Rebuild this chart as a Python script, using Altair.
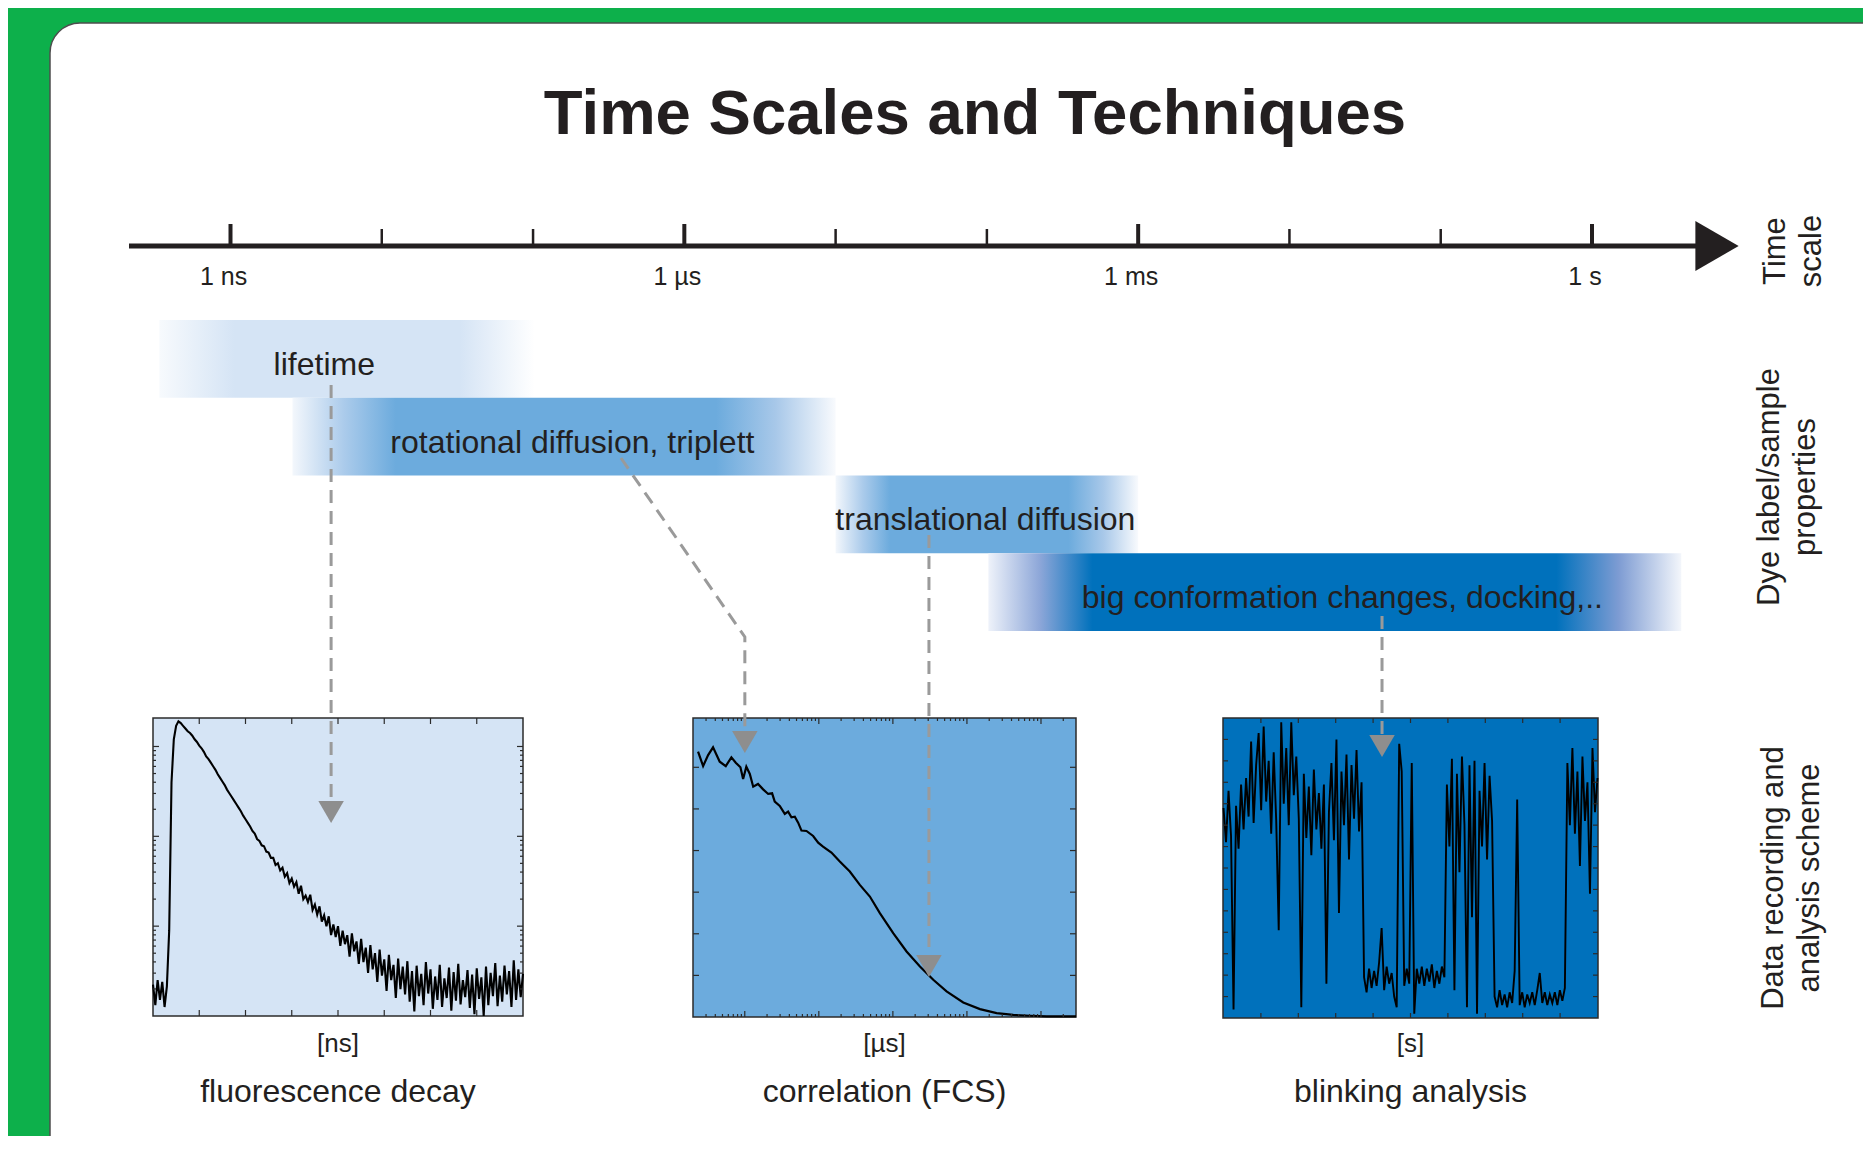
import altair as alt
import numpy as np
import pandas as pd

# ------------------------------------------------------------------ data
TITLE = "Time Scales and Techniques"

# time axis (log10 of seconds)
tick_decades = [-9, -8, -7, -6, -5, -4, -3, -2, -1, 0]
tick_major = [True, False, False, True, False, False, True, False, False, True]
label_decades = [-9, -6, -3, 0]
label_texts = ["1 ns", "1 µs", "1 ms", "1 s"]

# dye label / sample property bands
band_names = ["lifetime", "rotational diffusion, triplett",
              "translational diffusion", "big conformation changes, docking,.."]
band_start = [-9.47, -8.59, -5.00, -3.99]
band_end = [-6.99, -5.00, -3.00, 0.59]
band_row = [0, 1, 2, 3]
band_label_at = [-8.38, -6.74, -4.01, -1.65]

# dashed connectors (x in decades, y in band rows)
arrow_id = ["lifetime", "lifetime", "rot", "rot", "rot", "trans", "trans", "big", "big"]
arrow_seq = [0, 1, 0, 1, 2, 0, 1, 0, 1]
arrow_decade = [-8.335, -8.335, -6.419, -5.60, -5.60, -4.383, -4.383, -1.388, -1.388]
arrow_row = [0.836, 6.212, 1.775, 4.077, 5.286, 2.765, 8.180, 3.807, 5.363]
head_decade = [-8.335, -5.60, -4.383, -1.388]
head_row = [6.328, 5.428, 8.309, 5.479]

# fluorescence decay: log10 counts in 0.25 ns bins (0 .. 40 ns)
decay_bin_ns = 0.25
decay_log10 = [
    0.35, 0.12, 0.40, 0.18, 0.38, 0.10, 0.33, 0.95, 2.60, 3.08,
    3.23, 3.28, 3.26, 3.23, 3.20, 3.17, 3.15, 3.12, 3.08, 3.05,
    3.01, 2.98, 2.94, 2.89, 2.86, 2.82, 2.78, 2.74, 2.69, 2.65,
    2.61, 2.57, 2.52, 2.48, 2.44, 2.40, 2.36, 2.32, 2.28, 2.23,
    2.19, 2.15, 2.11, 2.06, 2.03, 1.97, 1.95, 1.90, 1.89, 1.83,
    1.82, 1.76, 1.76, 1.68, 1.70, 1.62, 1.65, 1.55, 1.59, 1.48,
    1.53, 1.44, 1.49, 1.36, 1.45, 1.30, 1.34, 1.27, 1.35, 1.18,
    1.24, 1.13, 1.22, 1.05, 1.12, 1.00, 1.11, 0.90, 1.02, 0.88,
    1.00, 0.78, 0.95, 0.80, 0.90, 0.66, 0.92, 0.72, 0.83, 0.58,
    0.86, 0.60, 0.76, 0.48, 0.79, 0.52, 0.70, 0.38, 0.74, 0.45,
    0.63, 0.28, 0.68, 0.40, 0.57, 0.20, 0.64, 0.30, 0.55, 0.24,
    0.61, 0.16, 0.50, 0.05, 0.56, 0.22, 0.47, 0.12, 0.60, 0.25,
    0.52, 0.08, 0.44, 0.18, 0.57, 0.10, 0.42, 0.20, 0.54, 0.06,
    0.49, 0.17, 0.58, 0.13, 0.40, 0.21, 0.51, 0.09, 0.46, 0.02,
    0.53, 0.19, 0.43, 0.00, 0.55, 0.12, 0.48, 0.22, 0.59, 0.11,
    0.45, 0.16, 0.56, 0.24, 0.50, 0.10, 0.62, 0.18, 0.52, 0.21,
    0.47]

# FCS correlation curve
fcs_tau_us = [0.234, 0.274, 0.320, 0.373, 0.459, 0.554, 0.660, 0.756, 0.874, 0.950,
              1.05, 1.17, 1.30, 1.51, 1.77, 2.07, 2.34, 2.54, 2.97, 3.47,
              3.85, 4.27, 4.74, 5.26, 5.83, 6.81, 8.38, 9.8, 11.4, 14.8,
              19.2, 26.2, 35.8, 48.9, 66.7, 101, 153, 232, 351, 531,
              892, 1500, 2518, 4227, 7100, 11940, 29700]
fcs_g = [1.275, 1.206, 1.259, 1.296, 1.227, 1.206, 1.248, 1.222, 1.200, 1.144,
         1.203, 1.168, 1.107, 1.120, 1.094, 1.072, 1.075, 1.035, 1.014, 0.976,
         0.987, 0.960, 0.963, 0.934, 0.896, 0.894, 0.870, 0.838, 0.819, 0.790,
         0.747, 0.699, 0.635, 0.579, 0.499, 0.403, 0.315, 0.243, 0.179, 0.123,
         0.070, 0.038, 0.019, 0.010, 0.006, 0.003, 0.003]

# blinking trace (count rate, 150 samples over 10 s)
blink_seconds = 10.0
blink_rate = [
    9.8, 8.2, 10.6, 8.5, 0.4, 9.9, 7.9, 10.9, 8.8, 11.2,
    9.4, 12.9, 9.1, 11.8, 13.3, 9.7, 13.6, 10.1, 12.0, 8.6,
    12.4, 9.2, 4.1, 13.8, 10.0, 12.6, 9.0, 13.8, 10.4, 12.2,
    9.3, 0.5, 11.4, 8.4, 10.8, 7.6, 11.6, 8.8, 10.5, 7.9,
    10.9, 1.6, 9.6, 11.9, 8.3, 13.0, 4.9, 11.5, 9.0, 12.3,
    7.4, 11.8, 9.3, 12.5, 8.7, 11.0, 1.9, 1.2, 2.3, 1.4,
    2.2, 1.5, 2.6, 4.2, 1.3, 2.4, 1.6, 2.1, 1.0, 0.5,
    12.8, 11.5, 1.5, 2.3, 1.6, 11.9, 0.2, 2.3, 1.6, 2.4,
    1.5, 2.3, 1.7, 2.5, 1.4, 2.2, 1.6, 2.4, 1.9, 10.9,
    8.0, 12.1, 1.3, 11.4, 6.8, 12.2, 9.0, 0.5, 11.8, 4.7,
    12.0, 0.2, 10.6, 8.0, 11.9, 7.4, 11.3, 9.2, 1.0, 0.5,
    1.3, 0.6, 1.1, 0.5, 1.2, 0.7, 2.2, 10.2, 0.6, 1.2,
    0.5, 1.1, 0.7, 1.2, 0.6, 1.3, 2.1, 0.7, 1.2, 0.6,
    1.1, 0.7, 1.2, 0.6, 1.3, 0.8, 1.4, 11.9, 9.0, 12.6,
    8.6, 11.5, 7.1, 12.2, 9.2, 11.0, 5.8, 12.6, 9.6, 11.2]

panel_units = ["[ns]", "[µs]", "[s]"]
panel_titles = ["fluorescence decay", "correlation (FCS)", "blinking analysis"]
side_labels = [["Time", "scale"], ["Dye label/sample", "properties"],
               ["Data recording and", "analysis scheme"]]

# ------------------------------------------------------------------ style
W, H = 1855, 1128
GREEN = "#0DB04B"
INK = "#231F20"
LIGHT = "#D5E4F5"
MID = "#6CABDD"
DARK = "#0071BC"
DASH_GRAY = "#9A9A9A"
HEAD_GRAY = "#8E8E8E"
FONT = "Liberation Sans"

TX = alt.Scale(domain=[-9, 0], range=[222.5, 1584.0], nice=False, zero=False)
RY = alt.Scale(domain=[0, 4], range=[312.0, 623.0], nice=False, zero=False)

band_stops = [
    [(0.0, "#F7FAFD"), (0.20, LIGHT), (0.80, LIGHT), (1.0, "#FFFFFF")],
    [(0.0, "#F3F7FC"), (0.095, "#ABCBEB"), (0.19, MID), (0.78, MID), (0.89, "#A8C8E9"), (1.0, "#F8FAFD")],
    [(0.0, "#F3F7FC"), (0.09, "#ABCBEB"), (0.18, MID), (0.77, MID), (0.885, "#A8C8E9"), (1.0, "#F8FAFD")],
    [(0.0, "#EEF2FA"), (0.075, "#8CA6D8"), (0.15, DARK), (0.82, DARK), (0.91, "#7E9CD3"), (1.0, "#F3F6FB")],
]

# panel boxes in chart pixels: x0, x1, y0, y1
BOX = [(145, 515, 710, 1008), (685, 1068, 710, 1009), (1215, 1590, 710, 1010)]
PANEL_FILL = [LIGHT, MID, DARK]


def one():
    return pd.DataFrame({"k": [0]})


layers = []

# white rounded sheet
layers.append(alt.Chart(one()).mark_rect(
    fill="white", stroke="#4D4D4D", strokeWidth=1.5, cornerRadius=30).encode(
    x=alt.value(42), x2=alt.value(2200), y=alt.value(15), y2=alt.value(1600)))

# bands
for i in range(4):
    df = pd.DataFrame({"start": [band_start[i]], "end": [band_end[i]],
                       "r0": [band_row[i]], "r1": [band_row[i] + 1]})
    grad = alt.Gradient(gradient="linear",
                        stops=[alt.GradientStop(offset=o, color=c) for o, c in band_stops[i]],
                        x1=0, x2=1, y1=0, y2=0)
    layers.append(alt.Chart(df).mark_rect(color=grad).encode(
        x=alt.X("start:Q", scale=TX, axis=None), x2="end:Q",
        y=alt.Y("r0:Q", scale=RY, axis=None), y2="r1:Q"))

# time axis
layers.append(alt.Chart(one()).mark_rule(color=INK, strokeWidth=5).encode(
    x=alt.value(121), x2=alt.value(1690), y=alt.value(238)))
ticks_df = pd.DataFrame({"d": tick_decades, "major": tick_major})
layers.append(alt.Chart(ticks_df[ticks_df["major"]]).mark_rule(color=INK, strokeWidth=4).encode(
    x=alt.X("d:Q", scale=TX, axis=None), y=alt.value(216), y2=alt.value(238)))
layers.append(alt.Chart(ticks_df[~ticks_df["major"]]).mark_rule(color=INK, strokeWidth=2.5).encode(
    x=alt.X("d:Q", scale=TX, axis=None), y=alt.value(221), y2=alt.value(238)))
layers.append(alt.Chart(one()).mark_point(
    shape="triangle-right", size=2500, filled=True, color=INK, opacity=1, strokeWidth=0).encode(
    x=alt.value(1709), y=alt.value(238)))
layers.append(alt.Chart(pd.DataFrame({"d": label_decades, "t": label_texts})).mark_text(
    font=FONT, fontSize=25, color=INK, align="center", baseline="alphabetic", dx=-7).encode(
    x=alt.X("d:Q", scale=TX, axis=None), y=alt.value(277), text="t:N"))

# band labels
bl = pd.DataFrame({"at": band_label_at, "rc": [r + 0.5 for r in band_row], "name": band_names})
layers.append(alt.Chart(bl).mark_text(
    font=FONT, fontSize=32, color=INK, align="center", baseline="middle", dy=6).encode(
    x=alt.X("at:Q", scale=TX, axis=None), y=alt.Y("rc:Q", scale=RY, axis=None), text="name:N"))

# title
layers.append(alt.Chart(one()).mark_text(
    font=FONT, fontSize=63.5, fontWeight="bold", color=INK, align="center",
    baseline="alphabetic", text=TITLE).encode(x=alt.value(967), y=alt.value(126)))

# side labels
for lines, (sx, sy) in zip(side_labels, [(1768, 243), (1762, 479), (1766, 870)]):
    layers.append(alt.Chart(one()).mark_text(
        font=FONT, fontSize=31, color=INK, align="center", baseline="middle",
        angle=270, lineHeight=36, text=lines).encode(x=alt.value(sx), y=alt.value(sy)))

# ---------------- inset panels
P1X = alt.Scale(domain=[0, 40], range=[BOX[0][0], BOX[0][1]], nice=False, zero=False)
P1Y = alt.Scale(domain=[0, 3.317], range=[BOX[0][3], BOX[0][2]], nice=False, zero=False)
P2X = alt.Scale(type="log", domain=[0.2, 29700], range=[BOX[1][0], BOX[1][1]], nice=False)
P2Y = alt.Scale(domain=[0, 1.437], range=[BOX[1][3], BOX[1][2]], nice=False, zero=False)
P3X = alt.Scale(domain=[0, blink_seconds], range=[BOX[2][0] + 0.5, BOX[2][1] - 0.5], nice=False, zero=False)
P3Y = alt.Scale(domain=[0, 14], range=[BOX[2][3], BOX[2][2]], nice=False, zero=False)

for (x0, x1, y0, y1), fill in zip(BOX, PANEL_FILL):
    layers.append(alt.Chart(one()).mark_rect(fill=fill, stroke="#2B2B2B", strokeWidth=1.5).encode(
        x=alt.value(x0), x2=alt.value(x1), y=alt.value(y0), y2=alt.value(y1)))

p1 = pd.DataFrame({"t": np.arange(len(decay_log10)) * decay_bin_ns, "v": decay_log10})
layers.append(alt.Chart(p1).mark_line(color="black", strokeWidth=2.1).encode(
    x=alt.X("t:Q", scale=P1X, axis=None), y=alt.Y("v:Q", scale=P1Y, axis=None)))
p2 = pd.DataFrame({"tau": fcs_tau_us, "g": fcs_g})
layers.append(alt.Chart(p2).mark_line(color="black", strokeWidth=2.2).encode(
    x=alt.X("tau:Q", scale=P2X, axis=None), y=alt.Y("g:Q", scale=P2Y, axis=None)))
p3 = pd.DataFrame({"t": np.linspace(0, blink_seconds, len(blink_rate)), "v": blink_rate})
layers.append(alt.Chart(p3).mark_line(color="black", strokeWidth=1.9).encode(
    x=alt.X("t:Q", scale=P3X, axis=None), y=alt.Y("v:Q", scale=P3Y, axis=None)))


def tick_layers(xs, ys, xvals, yvals, box, L, w=1.2, color="#2B2B2B"):
    x0, x1, y0, y1 = box
    out = []
    if xvals:
        d = pd.DataFrame({"v": xvals})
        out.append(alt.Chart(d).mark_rule(color=color, strokeWidth=w).encode(
            x=alt.X("v:Q", scale=xs, axis=None), y=alt.value(y1), y2=alt.value(y1 - L)))
        out.append(alt.Chart(d).mark_rule(color=color, strokeWidth=w).encode(
            x=alt.X("v:Q", scale=xs, axis=None), y=alt.value(y0), y2=alt.value(y0 + L)))
    if yvals:
        d = pd.DataFrame({"v": yvals})
        out.append(alt.Chart(d).mark_rule(color=color, strokeWidth=w).encode(
            y=alt.Y("v:Q", scale=ys, axis=None), x=alt.value(x0), x2=alt.value(x0 + L)))
        out.append(alt.Chart(d).mark_rule(color=color, strokeWidth=w).encode(
            y=alt.Y("v:Q", scale=ys, axis=None), x=alt.value(x1), x2=alt.value(x1 - L)))
    return out


p1_minor = [d + np.log10(k) for d in range(4) for k in range(2, 10) if d + np.log10(k) < 3.3]
layers += tick_layers(P1X, P1Y, [5, 10, 15, 20, 25, 30, 35], [1, 2, 3], BOX[0], 6)
layers += tick_layers(P1X, P1Y, [], p1_minor, BOX[0], 3)
p2_major = [1, 10, 100, 1000, 10000]
p2_minor = [k * 10.0 ** d for d in range(-1, 5) for k in range(2, 10) if 0.2 < k * 10.0 ** d < 29700]
layers += tick_layers(P2X, P2Y, p2_major, [0.2, 0.4, 0.6, 0.8, 1.0, 1.2], BOX[1], 6)
layers += tick_layers(P2X, P2Y, p2_minor, [], BOX[1], 3)
layers += tick_layers(P3X, P3Y, list(range(1, 10)), list(range(1, 14)), BOX[2], 5)

# panel captions
for (x0, x1, y0, y1), unit, ttl in zip(BOX, panel_units, panel_titles):
    cx = (x0 + x1) / 2
    layers.append(alt.Chart(one()).mark_text(
        font=FONT, fontSize=26, color=INK, align="center", baseline="middle", text=unit).encode(
        x=alt.value(cx), y=alt.value(1036)))
    layers.append(alt.Chart(one()).mark_text(
        font=FONT, fontSize=32, color=INK, align="center", baseline="middle", text=ttl).encode(
        x=alt.value(cx), y=alt.value(1084)))

# dashed connectors + heads
ar = pd.DataFrame({"id": arrow_id, "seq": arrow_seq, "d": arrow_decade, "r": arrow_row})
layers.append(alt.Chart(ar).mark_line(color=DASH_GRAY, strokeWidth=3, strokeDash=[13, 8]).encode(
    x=alt.X("d:Q", scale=TX, axis=None), y=alt.Y("r:Q", scale=RY, axis=None),
    detail="id:N", order="seq:O"))
hd = pd.DataFrame({"d": head_decade, "r": head_row})
layers.append(alt.Chart(hd).mark_point(
    shape="triangle-down", size=650, filled=True, color=HEAD_GRAY, opacity=1, strokeWidth=0).encode(
    x=alt.X("d:Q", scale=TX, axis=None), y=alt.Y("r:Q", scale=RY, axis=None)))

chart = alt.layer(*layers).resolve_scale(x="independent", y="independent").properties(
    width=W, height=H, background=GREEN, padding=0,
    autosize=alt.AutoSizeParams(type="none")).configure_view(stroke=None, fill=None)

chart.save("out.html", embed_options={"renderer": "svg", "actions": False})
